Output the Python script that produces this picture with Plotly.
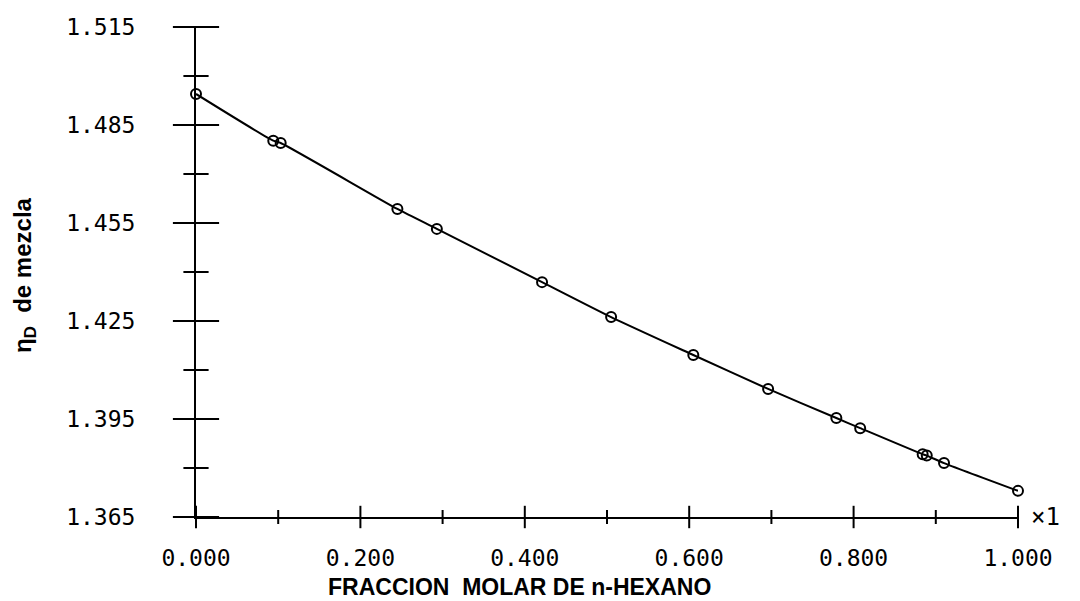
import plotly.graph_objects as go

# ---- data ----
x_frac = [0.000, 0.094, 0.103, 0.245, 0.293, 0.421, 0.505, 0.605, 0.696,
          0.779, 0.808, 0.884, 0.889, 0.910, 1.000]
n_d = [1.4945, 1.4802, 1.4795, 1.4593, 1.4532, 1.4369, 1.4262, 1.4146, 1.4042,
       1.3953, 1.3922, 1.3842, 1.3838, 1.3815, 1.3730]

x_major = [0.0, 0.2, 0.4, 0.6, 0.8, 1.0]
x_major_text = ["0.000", "0.200", "0.400", "0.600", "0.800", "1.000"]
x_minor = [0.1, 0.3, 0.5, 0.7, 0.9]
y_major = [1.365, 1.395, 1.425, 1.455, 1.485, 1.515]
y_major_text = ["1.365", "1.395", "1.425", "1.455", "1.485", "1.515"]
y_minor = [1.380, 1.410, 1.440, 1.470, 1.500]

X_RANGE = [0.0, 1.0]
Y_RANGE = [1.365, 1.515]

tick_font = dict(family="DejaVu Sans Mono", size=23, color="black")

fig = go.Figure()

# crossing tick marks (drawn as line markers so they extend both sides of the axes)
def tick_trace(xs, ys, symbol, size):
    return go.Scatter(x=xs, y=ys, mode="markers", cliponaxis=False,
                      marker=dict(symbol=symbol, size=size, color="black",
                                  line=dict(color="black", width=2)),
                      showlegend=False, hoverinfo="skip")

fig.add_trace(tick_trace([X_RANGE[0]] * len(y_major), y_major, "line-ew", 33))
fig.add_trace(tick_trace([X_RANGE[0]] * len(y_minor), y_minor, "line-ew", 18))
fig.add_trace(tick_trace(x_major, [Y_RANGE[0]] * len(x_major), "line-ns", 16))
fig.add_trace(tick_trace(x_minor, [Y_RANGE[0]] * len(x_minor), "line-ns", 10))

fig.add_trace(go.Scatter(
    x=x_frac, y=n_d, mode="lines+markers",
    line=dict(color="black", width=2, shape="spline", smoothing=0.6),
    marker=dict(symbol="circle-open", size=10, color="black", line=dict(width=2)),
    cliponaxis=False, showlegend=False, hoverinfo="skip",
))

fig.update_layout(
    width=1080, height=601,
    margin=dict(l=196, r=62, t=27, b=84),
    paper_bgcolor="white", plot_bgcolor="white",
    xaxis=dict(range=X_RANGE, tickvals=x_major, ticktext=x_major_text,
               showgrid=False, zeroline=False, showline=True, linecolor="black", linewidth=2,
               ticks="", ticklabelstandoff=19, tickfont=tick_font, fixedrange=True),
    yaxis=dict(range=Y_RANGE, tickvals=y_major, ticktext=y_major_text,
               showgrid=False, zeroline=False, showline=True, linecolor="black", linewidth=2,
               ticks="", ticklabelstandoff=54, tickfont=tick_font, fixedrange=True),
    annotations=[
        dict(text="<b>FRACCION  MOLAR DE n-HEXANO</b>", xref="paper", yref="paper",
             x=0.394, y=-0.143, xanchor="center", yanchor="middle", showarrow=False,
             font=dict(family="Liberation Sans", size=23, color="black")),
        dict(text="<b>η<sub>D</sub>  de mezcla</b>", xref="paper", yref="paper",
             x=-0.208, y=0.494, xanchor="center", yanchor="middle", showarrow=False,
             textangle=-90, font=dict(family="Liberation Sans", size=24, color="black")),
        dict(text="×1", xref="paper", yref="paper", x=1.013, y=0.0,
             xanchor="left", yanchor="middle", showarrow=False,
             font=dict(family="DejaVu Sans Mono", size=24, color="black")),
    ],
)

fig.write_html("out.html")
